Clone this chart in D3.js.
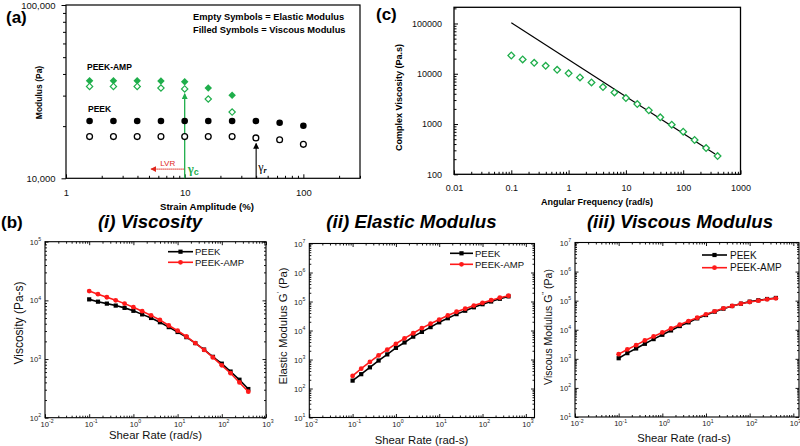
<!DOCTYPE html>
<html><head><meta charset="utf-8">
<script src="https://cdn.jsdelivr.net/npm/d3@7"></script>
<style>
body{margin:0;background:#fff}
svg{display:block;font-family:"Liberation Sans",Arial,Helvetica,sans-serif}
</style>
</head><body>
<svg id="chart" width="800" height="446"></svg>
<script>
// ---------------- DATA ----------------
// Panel (a): strain sweep
const strainPeek = [1.58, 2.51, 3.98, 6.31, 10, 15.8, 25.1, 39.8, 63.1, 100];
const peekViscousA = [21400, 21400, 21400, 21400, 21400, 21400, 21400, 21400, 20900, 20100];
const peekElasticA = [17400, 17400, 17400, 17400, 17400, 17400, 17400, 17100, 16700, 15700];
const strainAmp = [1.58, 2.51, 3.98, 6.31, 10, 15.8, 25.1];
const ampViscousA = [36600, 36600, 36600, 36400, 36100, 33200, 30100];
const ampElasticA = [33900, 33900, 33900, 33200, 32800, 28700, 24100];
const aYTickLabels = [10000, 100000];
const aXTickLabels = [1, 10, 100];
// annotations (data units)
const gammaC = 10, gammaCTop = 30800;
const gammaR = 40, gammaRTop = 15900;
const lvrFrom = 10, lvrTo = 5.2, lvrLevel = 11300;

// Panel (c): complex viscosity vs angular frequency
const angFreq = [0.1, 0.158, 0.251, 0.398, 0.631, 1, 1.58, 2.51, 3.98, 6.31, 10, 15.8, 25.1, 39.8, 63.1, 100, 158, 251, 398];
const complexVisc = [23100, 19300, 16500, 14400, 12000, 10200, 8460, 6720, 5430, 4260, 3280, 2500, 1870, 1360, 970, 704, 481, 333, 231];
const fitFreq = [0.1, 360];
const fitVisc = [104000, 253];
const cXTickLabels = [0.01, 0.1, 1, 10, 100, 1000];
const cYTickLabels = [100, 1000, 10000, 100000];

// Panel (b): shear-rate sweeps
const shearRate = [0.1, 0.158, 0.251, 0.398, 0.631, 1, 1.58, 2.51, 3.98, 6.31, 10, 15.8, 25.1, 39.8, 63.1, 100, 158, 251, 398];
const viscPeek = [10400, 9500, 8800, 8150, 7450, 6640, 5770, 5010, 4240, 3500, 2890, 2360, 1870, 1450, 1090, 834, 612, 444, 308];
const viscAmp  = [14400, 12760, 11300, 10000, 8800, 7650, 6550, 5550, 4640, 3730, 3040, 2420, 1870, 1430, 1066, 782, 573, 399, 278];
const elasPeek = [187, 312, 536, 922, 1500, 2520, 3870, 6140, 8970, 13100, 19150, 26500, 36700, 48100, 63100, 80500, 100000, 124000, 150000];
const elasAmp  = [272, 481, 827, 1380, 2190, 3480, 5360, 8050, 12100, 17200, 23800, 33000, 44400, 56600, 72200, 89700, 111000, 135000, 158000];
const viscModPeek = [1050, 1570, 2270, 3290, 4770, 6720, 9480, 13400, 17900, 24600, 32100, 41800, 53000, 65500, 78800, 92500, 103000, 114000, 124000];
const viscModAmp  = [1450, 2100, 2960, 4290, 5890, 8090, 11100, 14900, 19900, 25900, 33800, 42900, 54500, 65500, 78800, 90000, 100000, 111000, 120000];
const seriesNames = ["PEEK", "PEEK-AMP"];

// ---------------- HELPERS ----------------
const svg = d3.select("#chart");
const GREEN = "#1fae4b", RED = "#ff1a1a", LVRRED = "#e0261b";

function logTicks(domain) {
  const lo = Math.min(...domain), hi = Math.max(...domain);
  const major = [], minor = [];
  for (let d = Math.floor(Math.log10(lo)); d <= Math.ceil(Math.log10(hi)); d++) {
    for (let k = 1; k < 10; k++) {
      const v = k * Math.pow(10, d);
      if (v >= lo * 0.999 && v <= hi * 1.001) (k === 1 ? major : minor).push(v);
    }
  }
  return { major, minor };
}
function cleanAxis(g) { g.select(".domain").remove(); g.selectAll("line").attr("stroke", "#000"); }

const defs = svg.append("defs");
function arrowMarker(id, color) {
  defs.append("marker").attr("id", id).attr("viewBox", "0 0 10 10").attr("refX", 9).attr("refY", 5)
    .attr("markerUnits", "userSpaceOnUse").attr("markerWidth", 6).attr("markerHeight", 6).attr("orient", "auto")
    .append("path").attr("d", "M0,0 L10,5 L0,10 z").attr("fill", color);
}
arrowMarker("arrG", GREEN); arrowMarker("arrK", "#000"); arrowMarker("arrR", LVRRED);

// ---------------- PANEL (a) ----------------
{
  const x = d3.scaleLog().domain([1, 300]).range([66, 360]);
  const y = d3.scaleLog().domain([1e4, 1e5]).range([178.3, 5]);
  const g = svg.append("g");
  const xt = logTicks(x.domain()), yt = logTicks(y.domain());
  g.append("g").attr("transform", `translate(0,${y.range()[0]})`)
    .call(d3.axisBottom(x).tickValues(xt.minor).tickSize(-2.5).tickFormat("").tickSizeOuter(0)).call(cleanAxis);
  g.append("g").attr("transform", `translate(0,${y.range()[0]})`)
    .call(d3.axisBottom(x).tickValues(aXTickLabels).tickSize(-4).tickPadding(11).tickFormat(d3.format("d")).tickSizeOuter(0))
    .call(cleanAxis).call(s => s.selectAll("text").attr("font-size", 9.5).attr("fill", "#111"));
  g.append("g").attr("transform", `translate(${x.range()[0]},0)`)
    .call(d3.axisLeft(y).tickValues(yt.minor).tickSize(3).tickFormat("").tickSizeOuter(0)).call(cleanAxis);
  g.append("g").attr("transform", `translate(${x.range()[0]},0)`)
    .call(d3.axisLeft(y).tickValues(aYTickLabels).tickSize(4.5).tickPadding(6).tickFormat(d3.format(",")).tickSizeOuter(0))
    .call(cleanAxis).call(s => s.selectAll("text").attr("font-size", 9.5).attr("fill", "#111"));
  g.append("rect").attr("x", x.range()[0]).attr("y", y.range()[1])
    .attr("width", x.range()[1] - x.range()[0]).attr("height", y.range()[0] - y.range()[1])
    .attr("fill", "none").attr("stroke", "#000").attr("stroke-width", 1.2);

  g.append("line").attr("x1", x(gammaC)).attr("x2", x(gammaC)).attr("y1", y.range()[0]).attr("y2", y(gammaCTop))
    .attr("stroke", GREEN).attr("stroke-width", 1.3).attr("marker-end", "url(#arrG)");
  g.append("line").attr("x1", x(gammaR)).attr("x2", x(gammaR)).attr("y1", y.range()[0]).attr("y2", y(gammaRTop))
    .attr("stroke", "#000").attr("stroke-width", 1.1).attr("marker-end", "url(#arrK)");
  g.append("line").attr("x1", x(lvrFrom) - 1).attr("x2", x(lvrTo)).attr("y1", y(lvrLevel)).attr("y2", y(lvrLevel))
    .attr("stroke", LVRRED).attr("stroke-width", 1.4).attr("stroke-dasharray", "1.2,0.8").attr("marker-end", "url(#arrR)");
  g.append("text").attr("x", x(7.2)).attr("y", y(lvrLevel) - 3).attr("text-anchor", "middle")
    .attr("font-size", 8).attr("fill", LVRRED).text("LVR");
  const gc = g.append("text").attr("x", x(gammaC) + 3).attr("y", 173).attr("fill", GREEN)
    .attr("font-family", "'Liberation Serif','DejaVu Serif',serif").attr("font-size", 13).attr("font-weight", "bold");
  gc.append("tspan").text("γ");
  gc.append("tspan").attr("dy", 2).attr("font-size", 9).attr("font-family", "'Liberation Sans',Arial,sans-serif").text("c");
  const gr = g.append("text").attr("x", x(gammaR) + 2).attr("y", 171).attr("fill", "#000")
    .attr("font-family", "'Liberation Serif','DejaVu Serif',serif").attr("font-size", 12);
  gr.append("tspan").text("γ");
  gr.append("tspan").attr("dy", 2).attr("font-size", 8).attr("font-style", "italic").attr("font-weight", "bold").text("r");

  const dia = d3.symbol().type(d3.symbolSquare).size(28);
  g.append("g").selectAll("circle").data(strainPeek).join("circle")
    .attr("cx", d => x(d)).attr("cy", (d, i) => y(peekViscousA[i])).attr("r", 3.3).attr("fill", "#000");
  g.append("g").selectAll("circle").data(strainPeek).join("circle")
    .attr("cx", d => x(d)).attr("cy", (d, i) => y(peekElasticA[i])).attr("r", 2.9)
    .attr("fill", "#fff").attr("stroke", "#000").attr("stroke-width", 1.3);
  g.append("g").selectAll("path").data(strainAmp).join("path").attr("d", dia)
    .attr("transform", (d, i) => `translate(${x(d)},${y(ampViscousA[i])}) rotate(45)`).attr("fill", GREEN);
  g.append("g").selectAll("path").data(strainAmp).join("path").attr("d", d3.symbol().type(d3.symbolSquare).size(20))
    .attr("transform", (d, i) => `translate(${x(d)},${y(ampElasticA[i])}) rotate(45)`)
    .attr("fill", "#fff").attr("stroke", GREEN).attr("stroke-width", 1.2);

  g.append("text").attr("x", 87).attr("y", 70).attr("font-size", 8.5).attr("font-weight", "bold").text("PEEK-AMP");
  g.append("text").attr("x", 88).attr("y", 112).attr("font-size", 8.5).attr("font-weight", "bold").text("PEEK");
  g.append("text").attr("x", 193).attr("y", 20).attr("font-size", 9.3).attr("font-weight", "bold").text("Empty Symbols = Elastic Modulus");
  g.append("text").attr("x", 193).attr("y", 32.5).attr("font-size", 9.3).attr("font-weight", "bold").text("Filled Symbols = Viscous Modulus");
  g.append("text").attr("transform", "translate(42,92.5) rotate(-90)").attr("text-anchor", "middle")
    .attr("font-size", 8.5).attr("font-weight", "bold").text("Modulus (Pa)");
  g.append("text").attr("x", 207).attr("y", 209.5).attr("text-anchor", "middle")
    .attr("font-size", 9.6).attr("font-weight", "bold").text("Strain Amplitude (%)");
  g.append("text").attr("x", 6).attr("y", 23).attr("font-size", 17).attr("font-weight", "bold").text("(a)");
}

// ---------------- PANEL (c) ----------------
{
  const x = d3.scaleLog().domain([0.01, 1000]).range([454, 740.5]);
  const y = d3.scaleLog().domain([100, 2.1e5]).range([174.3, 7.3]);
  const g = svg.append("g");
  const xt = logTicks(x.domain()), yt = logTicks(y.domain());
  g.append("g").attr("transform", `translate(0,${y.range()[0]})`)
    .call(d3.axisBottom(x).tickValues(xt.minor).tickSize(-2.5).tickFormat("").tickSizeOuter(0)).call(cleanAxis);
  g.append("g").attr("transform", `translate(0,${y.range()[0]})`)
    .call(d3.axisBottom(x).tickValues(cXTickLabels).tickSize(-4).tickPadding(10).tickFormat(d => String(d)).tickSizeOuter(0))
    .call(cleanAxis).call(s => s.selectAll("text").attr("font-size", 9).attr("fill", "#111"));
  g.append("g").attr("transform", `translate(${x.range()[0]},0)`)
    .call(d3.axisLeft(y).tickValues(yt.minor).tickSize(-2.5).tickFormat("").tickSizeOuter(0)).call(cleanAxis);
  g.append("g").attr("transform", `translate(${x.range()[0]},0)`)
    .call(d3.axisLeft(y).tickValues(cYTickLabels).tickSize(-4).tickPadding(12).tickFormat(d => String(d)).tickSizeOuter(0))
    .call(cleanAxis).call(s => s.selectAll("text").attr("font-size", 9).attr("fill", "#111"));
  g.append("rect").attr("x", x.range()[0]).attr("y", y.range()[1])
    .attr("width", x.range()[1] - x.range()[0]).attr("height", y.range()[0] - y.range()[1])
    .attr("fill", "none").attr("stroke", "#000").attr("stroke-width", 1.3);
  g.append("path").datum(fitFreq.map((f, i) => [f, fitVisc[i]]))
    .attr("d", d3.line().x(d => x(d[0])).y(d => y(d[1]))).attr("fill", "none").attr("stroke", "#000").attr("stroke-width", 1.2);
  g.append("g").selectAll("path").data(angFreq).join("path").attr("d", d3.symbol().type(d3.symbolSquare).size(22))
    .attr("transform", (d, i) => `translate(${x(d)},${y(complexVisc[i])}) rotate(45)`)
    .attr("fill", "#fff").attr("stroke", GREEN).attr("stroke-width", 1.3);
  g.append("text").attr("transform", "translate(401.5,97.5) rotate(-90)").attr("text-anchor", "middle")
    .attr("font-size", 9).attr("font-weight", "bold").text("Complex Viscosity (Pa.s)");
  g.append("text").attr("x", 597).attr("y", 205).attr("text-anchor", "middle")
    .attr("font-size", 9).attr("font-weight", "bold").text("Angular Frequency (rad/s)");
  g.append("text").attr("x", 376).attr("y", 20).attr("font-size", 17).attr("font-weight", "bold").text("(c)");
}

// ---------------- PANEL (b) ----------------
svg.append("text").attr("x", 1).attr("y", 228).attr("font-size", 17).attr("font-weight", "bold").text("(b)");

const bLayouts = [
  { title: "(i) Viscosity", tx: 150, xr: [45, 266], yr: [417.7, 241.7], xd: [0.01, 1000], yd: [100, 1e5],
    peek: viscPeek, amp: viscAmp, yTitle: ["Viscosity (Pa-s)"], ytx: 23, yty: 323, yfs: 12,
    xTitle: "Shear Rate (rad/s)", xtx: 155.5, xty: 439, leg: [168, 193, 251.7, 262.3, 195], legfs: 9.5 },
  { title: "(ii) Elastic Modulus", tx: 411.5, xr: [309.3, 534.5], yr: [417.5, 243.5], xd: [0.01, Math.pow(10, 3.2)], yd: [10, 1e7],
    peek: elasPeek, amp: elasAmp, yTitle: ["Elastic Modulus G", "'", " (Pa)"], ytx: 287, yty: 326, yfs: 11.3,
    xTitle: "Shear Rate (rad-s)", xtx: 421.5, xty: 444, leg: [450, 473, 253.3, 264.3, 475], legfs: 9.5 },
  { title: "(iii) Viscous Modulus", tx: 680, xr: [575, 799], yr: [417, 242.5], xd: [0.01, Math.pow(10, 3.13)], yd: [10, 1e7],
    peek: viscModPeek, amp: viscModAmp, yTitle: ["Viscous Modulus G", "''", " (Pa)"], ytx: 551.5, yty: 327, yfs: 10.5,
    xTitle: "Shear Rate (rad-s)", xtx: 684, xty: 441.5, leg: [702, 727, 255, 267.7, 730], legfs: 10 }
];

function supText(sel, v, fs) {
  const e = Math.round(Math.log10(v));
  sel.append("tspan").text("10");
  sel.append("tspan").attr("dy", -fs * 0.45).attr("font-size", fs * 0.68).text(e);
}

bLayouts.forEach(L => {
  const x = d3.scaleLog().domain(L.xd).range(L.xr);
  const y = d3.scaleLog().domain(L.yd).range(L.yr);
  const g = svg.append("g");
  const xt = logTicks(x.domain()), yt = logTicks(y.domain());
  const [x0, x1] = L.xr, [yb, ytop] = L.yr;
  [[d3.axisBottom, yb], [d3.axisTop, ytop]].forEach(([fn, pos]) => {
    g.append("g").attr("transform", `translate(0,${pos})`)
      .call(fn(x).tickValues(xt.minor).tickSize(-2).tickFormat("").tickSizeOuter(0)).call(cleanAxis);
    g.append("g").attr("transform", `translate(0,${pos})`)
      .call(fn(x).tickValues(xt.major).tickSize(-3.5).tickFormat("").tickSizeOuter(0)).call(cleanAxis);
  });
  [[d3.axisLeft, x0], [d3.axisRight, x1]].forEach(([fn, pos]) => {
    g.append("g").attr("transform", `translate(${pos},0)`)
      .call(fn(y).tickValues(yt.minor).tickSize(-2).tickFormat("").tickSizeOuter(0)).call(cleanAxis);
    g.append("g").attr("transform", `translate(${pos},0)`)
      .call(fn(y).tickValues(yt.major).tickSize(-3.5).tickFormat("").tickSizeOuter(0)).call(cleanAxis);
  });
  g.selectAll("line").attr("stroke-width", 0.9);
  g.append("rect").attr("x", x0).attr("y", ytop).attr("width", x1 - x0).attr("height", yb - ytop)
    .attr("fill", "none").attr("stroke", "#000").attr("stroke-width", 1.1);
  const fs = 7.6;
  g.append("g").selectAll("text").data(xt.major).join("text")
    .attr("x", d => x(d) + 2).attr("y", yb + 9).attr("text-anchor", "middle").attr("font-size", fs).attr("fill", "#222")
    .each(function (d) { supText(d3.select(this), d, fs); });
  g.append("g").selectAll("text").data(yt.major).join("text")
    .attr("x", x0 - 4).attr("y", d => y(d) + 3).attr("text-anchor", "end").attr("font-size", fs).attr("fill", "#222")
    .each(function (d) { supText(d3.select(this), d, fs); });
  const line = d3.line().x(d => x(d[0])).y(d => y(d[1]));
  const pk = shearRate.map((s, i) => [s, L.peek[i]]);
  const am = shearRate.map((s, i) => [s, L.amp[i]]);
  g.append("path").datum(pk).attr("d", line).attr("fill", "none").attr("stroke", "#000").attr("stroke-width", 1.6);
  g.append("g").selectAll("rect").data(pk).join("rect")
    .attr("x", d => x(d[0]) - 2.1).attr("y", d => y(d[1]) - 2.1).attr("width", 4.2).attr("height", 4.2).attr("fill", "#000");
  g.append("path").datum(am).attr("d", line).attr("fill", "none").attr("stroke", RED).attr("stroke-width", 1.6);
  g.append("g").selectAll("circle").data(am).join("circle")
    .attr("cx", d => x(d[0])).attr("cy", d => y(d[1])).attr("r", 2.4).attr("fill", RED);
  const [lx0, lx1, ly0, ly1, ltx] = L.leg;
  [[ly0, "#000", "sq"], [ly1, RED, "ci"]].forEach(([ly, col, m], i) => {
    g.append("line").attr("x1", lx0).attr("x2", lx1).attr("y1", ly).attr("y2", ly).attr("stroke", col).attr("stroke-width", 1.6);
    if (m === "sq") g.append("rect").attr("x", (lx0 + lx1) / 2 - 2.1).attr("y", ly - 2.1).attr("width", 4.2).attr("height", 4.2).attr("fill", col);
    else g.append("circle").attr("cx", (lx0 + lx1) / 2).attr("cy", ly).attr("r", 2.4).attr("fill", col);
    g.append("text").attr("x", ltx).attr("y", ly + L.legfs * 0.36).attr("font-size", L.legfs).attr("fill", "#111").text(seriesNames[i]);
  });
  g.append("text").attr("x", L.tx).attr("y", 227.5).attr("text-anchor", "middle").attr("font-size", 18.7)
    .attr("font-weight", "bold").attr("font-style", "italic").text(L.title);
  g.append("text").attr("x", L.xtx).attr("y", L.xty).attr("text-anchor", "middle").attr("font-size", 11.3).attr("fill", "#111").text(L.xTitle);
  const yt2 = g.append("text").attr("transform", `translate(${L.ytx},${L.yty}) rotate(-90)`).attr("text-anchor", "middle")
    .attr("font-size", L.yfs).attr("fill", "#111");
  yt2.append("tspan").text(L.yTitle[0]);
  if (L.yTitle.length > 1) {
    yt2.append("tspan").attr("dy", -L.yfs * 0.4).attr("font-size", L.yfs * 0.7).text(L.yTitle[1]);
    yt2.append("tspan").attr("dy", L.yfs * 0.4).text(L.yTitle[2]);
  }
});
</script>
</body></html>
